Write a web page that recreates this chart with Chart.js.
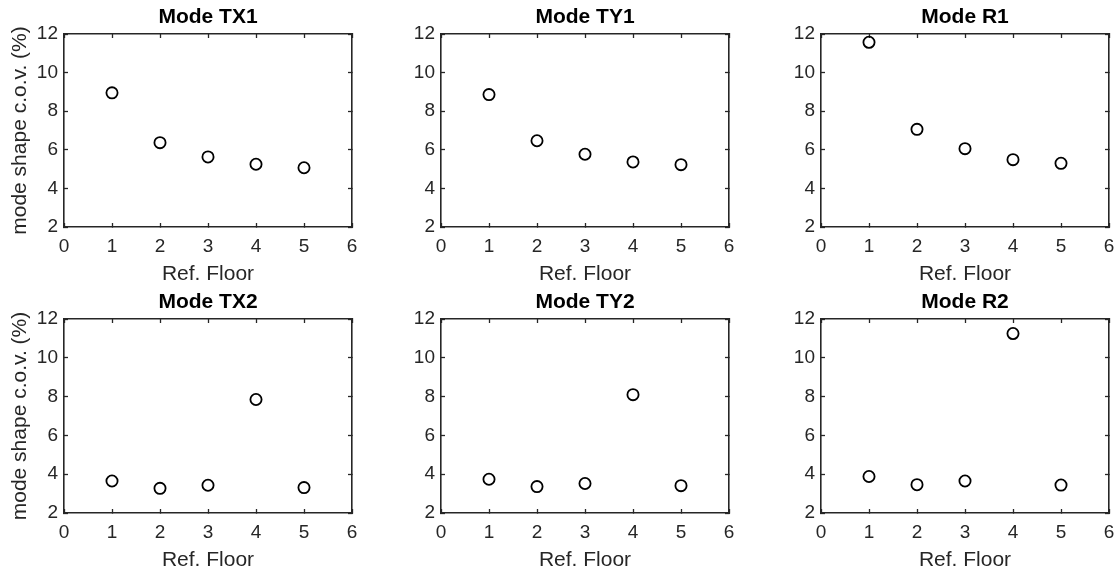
<!DOCTYPE html>
<html>
<head>
<meta charset="utf-8">
<title>Mode shape c.o.v. by reference floor</title>
<script src="https://cdn.jsdelivr.net/npm/chart.js@4.4.1/dist/chart.umd.min.js"></script>
<style>
  html, body { margin: 0; padding: 0; background: #fff; }
  body { width: 1116px; height: 574px; position: relative; overflow: hidden; }
  canvas { position: absolute; }
</style>
</head>
<body>
<script>
// Data: c.o.v. (%) of the mode shape for each reference floor
const floors = [1, 2, 3, 4, 5];
const xTicks = [0, 1, 2, 3, 4, 5, 6];
const yTicks = [2, 4, 6, 8, 10, 12];
const modeTitles = ["Mode TX1", "Mode TY1", "Mode R1", "Mode TX2", "Mode TY2", "Mode R2"];

const covTX1 = [8.95, 6.37, 5.63, 5.25, 5.07];
const covTY1 = [8.86, 6.47, 5.77, 5.37, 5.23];
const covR1  = [11.57, 7.06, 6.06, 5.49, 5.30];
const covTX2 = [3.65, 3.27, 3.43, 7.85, 3.31];
const covTY2 = [3.74, 3.36, 3.52, 8.10, 3.41];
const covR2  = [3.88, 3.46, 3.65, 11.25, 3.44];

const modeSeries = [covTX1, covTY1, covR1, covTX2, covTY2, covR2];

const xLabel = "Ref. Floor";
const yLabel = "mode shape c.o.v. (%)";

// Grid layout (plot area edges in page pixels)
const colEdges = [[64, 352], [441, 729], [821, 1109]];
const rowEdges = [[34, 227], [319, 513]];

const AXIS = "#262626";
const FONT = "'Liberation Sans', Arial, Helvetica, sans-serif";
Chart.defaults.font.family = FONT;
Chart.defaults.color = AXIS;

const TITLE_H = 34;
const XAXIS_H = 60;
const PAD_RIGHT = 12;

// Inward ticks on every side of the box
function boxAxis(axis, position, extra) {
  return Object.assign({
    type: "linear",
    axis,
    position,
    min: axis === "x" ? xTicks[0] : yTicks[0],
    max: axis === "x" ? xTicks[xTicks.length - 1] : yTicks[yTicks.length - 1],
    afterBuildTicks: s => {
      s.ticks = (axis === "x" ? xTicks : yTicks).map(v => ({ value: v }));
    },
    grid: {
      display: true,
      drawOnChartArea: false,
      drawTicks: true,
      tickLength: -4,
      tickWidth: 1.3,
      tickColor: AXIS
    },
    border: { display: true, color: AXIS, width: 1.6 },
    ticks: { display: false }
  }, extra);
}

function makePanel(idx) {
  const col = idx % 3;
  const row = Math.floor(idx / 3);
  const [pl, pr] = colEdges[col];
  const [pt, pb] = rowEdges[row];
  const yW = col === 0 ? 64 : 50;

  const canvas = document.createElement("canvas");
  const left = pl - yW;
  const top = pt - TITLE_H;
  const w = pr + PAD_RIGHT - left;
  const h = (pb - pt) + TITLE_H + XAXIS_H;
  canvas.width = w;
  canvas.height = h;
  canvas.style.left = left + "px";
  canvas.style.top = top + "px";
  canvas.style.width = w + "px";
  canvas.style.height = h + "px";
  document.body.appendChild(canvas);

  new Chart(canvas.getContext("2d"), {
    type: "scatter",
    data: {
      datasets: [{
        data: floors.map((f, i) => ({ x: f, y: modeSeries[idx][i] })),
        pointStyle: "circle",
        pointRadius: 5.6,
        pointBorderWidth: 1.8,
        pointBorderColor: "#000",
        pointBackgroundColor: "rgba(0,0,0,0)",
        showLine: false
      }]
    },
    options: {
      responsive: false,
      animation: false,
      devicePixelRatio: 1,
      layout: { padding: { left: 0, top: 0, right: PAD_RIGHT, bottom: 0 } },
      plugins: {
        legend: { display: false },
        tooltip: { enabled: false },
        title: {
          display: true,
          text: modeTitles[idx],
          color: "#000",
          fullSize: false,
          font: { size: 21, weight: "bold", lineHeight: 1.2 },
          padding: { top: 4.4, bottom: 4.4 }
        }
      },
      scales: {
        x: boxAxis("x", "bottom", {
          afterFit: s => { s.height = XAXIS_H; s.paddingLeft = 0; s.paddingRight = 0; },
          ticks: { display: true, padding: 12, color: AXIS, font: { size: 19 }, maxRotation: 0 },
          title: {
            display: true, text: xLabel, color: AXIS,
            font: { size: 21, lineHeight: 1.2 }, padding: { top: 0, bottom: 0 }
          }
        }),
        y: boxAxis("y", "left", {
          afterFit: s => { s.width = yW; s.paddingTop = 0; s.paddingBottom = 0; },
          ticks: { display: true, padding: 10, color: AXIS, font: { size: 19 } },
          title: {
            display: col === 0, text: yLabel, color: AXIS,
            font: { size: 21, lineHeight: 1.2 }, padding: { top: 8, bottom: 0 }
          }
        }),
        x2: boxAxis("x", "top", {
          afterFit: s => { s.height = 0; s.paddingLeft = 0; s.paddingRight = 0; }
        }),
        y2: boxAxis("y", "right", {
          afterFit: s => { s.width = 0; s.paddingTop = 0; s.paddingBottom = 0; }
        })
      }
    }
  });
}

modeTitles.forEach((_, i) => makePanel(i));
</script>
</body>
</html>
